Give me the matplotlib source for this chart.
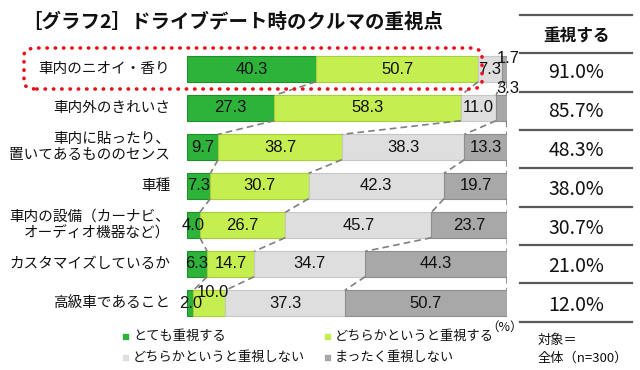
import matplotlib.pyplot as plt
from matplotlib.lines import Line2D
from matplotlib.patches import FancyBboxPatch, Rectangle

plt.rcParams["font.family"] = ["Noto Sans CJK JP", "DejaVu Sans"]

categories = [
    "車内のニオイ・香り",
    "車内外のきれいさ",
    "車内に貼ったり、\n置いてあるもののセンス",
    "車種",
    "車内の設備（カーナビ、\nオーディオ機器など）",
    "カスタマイズしているか",
    "高級車であること",
]
very_important = [40.3, 27.3, 9.7, 7.3, 4.0, 6.3, 2.0]
somewhat_important = [50.7, 58.3, 38.7, 30.7, 26.7, 14.7, 10.0]
somewhat_not = [7.3, 11.0, 38.3, 42.3, 45.7, 34.7, 37.3]
not_at_all = [1.7, 3.3, 13.3, 19.7, 23.7, 44.3, 50.7]
important_total = ["91.0%", "85.7%", "48.3%", "38.0%", "30.7%", "21.0%", "12.0%"]
series_names = ["とても重視する", "どちらかというと重視する",
                "どちらかというと重視しない", "まったく重視しない"]

colors = ["#2DB23A", "#C5EE50", "#DEDEDE", "#A8A8A8"]
edges = ["#1F8F2A", "#A8D03A", "#C8C8C8", "#8E8E8E"]

W, H = 640, 370
fig = plt.figure(figsize=(W / 100, H / 100), dpi=100)


def fx(px):
    return px / W


def fy(py):
    return 1 - py / H


ax = fig.add_axes([fx(187), fy(322.5), 320 / W, 273 / H])
ax.set_xlim(0, 100)
ax.set_ylim(len(categories) - 0.5, -0.5)
ax.axis("off")

series = [very_important, somewhat_important, somewhat_not, not_at_all]
bar_h = 0.65
rows = range(len(categories))
lefts = [0.0] * len(categories)
bounds = []
for k, vals in enumerate(series):
    ax.barh(list(rows), vals, left=lefts, height=bar_h, color=colors[k],
            edgecolor=edges[k], linewidth=0.8)
    for i in rows:
        x = lefts[i] + vals[i] / 2
        y = i
        if k == 3 and i in (0, 1):
            x = 100.4
            y = i - (0.26 if i == 0 else 0.5)
        if k == 1 and i == 6:
            x += 1.0
            y = i - 0.28
        ax.text(x, y, f"{vals[i]:.1f}", ha="center", va="center", fontsize=12,
                family=["Liberation Sans"], color="#111111", zorder=5)
    lefts = [lefts[i] + vals[i] for i in rows]
    bounds.append(list(lefts))

# dashed connectors between rows
for cum in bounds:
    for i in range(len(categories) - 1):
        ax.plot([cum[i], cum[i + 1]], [i + bar_h / 2, i + 1 - bar_h / 2],
                color="#808080", lw=1.2, ls=(0, (4, 2.5)), zorder=1)

for i, name in enumerate(categories):
    ax.text(-5.3, i, name, ha="right", va="center", fontsize=10.5,
            linespacing=1.25, color="#111111")

# title
fig.text(fx(22), fy(22), "［グラフ2］ドライブデート時のクルマの重視点",
         ha="left", va="center", fontsize=14, fontweight="bold", color="#111111")

# right table
for py in [15, 53, 92, 130, 168, 207, 245, 283, 322]:
    fig.add_artist(Line2D([fx(520), fx(632)], [fy(py), fy(py)],
                          color="#5A5A5A", lw=1.6))
fig.text(fx(576), fy(37), "重視する", ha="center", va="center",
         fontsize=12, fontweight="bold", color="#111111")
for i, t in enumerate(important_total):
    fig.text(fx(576), fy(73 + 38.8 * i), t, ha="center", va="center",
             fontsize=14, color="#111111")

# highlight box
fig.add_artist(FancyBboxPatch((fx(24), fy(89)), fx(458), 41 / H,
                              boxstyle="round,pad=0,rounding_size=0.02",
                              transform=fig.transFigure, fill=False,
                              edgecolor="#E8101A", lw=2.6,
                              ls=(0, (0.1, 2.2)), capstyle="round"))

# legend
legend_pos = [(125, 336), (327, 336), (125, 357), (327, 357)]
for k, (lx, ly) in enumerate(legend_pos):
    fig.add_artist(Rectangle((fx(lx - 3.5), fy(ly + 3.5)), 7 / W, 7 / H,
                             transform=fig.transFigure, facecolor=colors[k],
                             edgecolor="white", lw=0.5))
    fig.text(fx(lx + 8), fy(ly), series_names[k], ha="left", va="center",
             fontsize=9.5, color="#111111")

fig.text(fx(505), fy(327), "（%）", ha="center", va="center", fontsize=9,
         color="#111111")
fig.text(fx(538), fy(340), "対象＝", ha="left", va="center", fontsize=9.5,
         color="#111111")
fig.text(fx(538), fy(358), "全体（n=300）", ha="left", va="center", fontsize=9.5,
         color="#111111")

fig.savefig("out.png", dpi=100, facecolor="white")
